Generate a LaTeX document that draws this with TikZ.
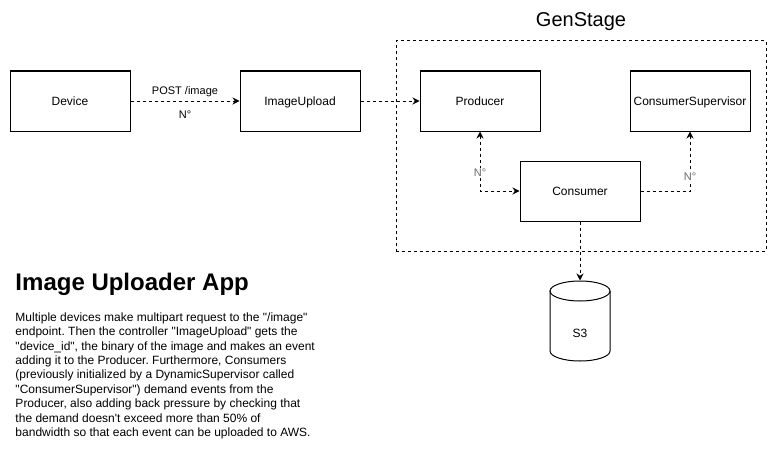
\documentclass[tikz,border=0pt]{standalone}
\usepackage{fontspec}
\defaultfontfeatures[\rmfamily]{}
\setmainfont{Liberation Sans}
\usetikzlibrary{arrows.meta}
\frenchspacing

\begin{document}
\begin{tikzpicture}[x=1pt, y=-1pt, line width=1pt,
      block/.style = {draw, minimum width=120pt, minimum height=60pt, inner sep=0pt,
                      text height=8.6pt, text depth=0pt, font=\fontsize{12}{14.4}\selectfont},
      group/.style = {draw, dash pattern=on 3pt off 3pt, minimum width=370pt,
                      minimum height=210pt, inner sep=0pt},
      flow/.style = {dash pattern=on 3pt off 3pt, -{Stealth[length=7pt,width=7pt]}},
      edgelabel/.style = {inner sep=1pt, font=\fontsize{11}{13}\selectfont},
      countlabel/.style = {edgelabel, fill=white, text=black!60}]

  \useasboundingbox (0,0) rectangle (776,452);

  % GenStage group
  \node[group] (genstage) at (581,146) {};
  \node[font=\fontsize{20}{24}\selectfont] (gstitle) at (581,22) {GenStage};

  % Blocks
  \node[block] (device) at (70,101) {Device};
  \node[block] (upload) at (300,101) {ImageUpload};
  \node[block] (producer) at (480,101) {Producer};
  \node[block] (supervisor) at (690,101) {ConsumerSupervisor};
  \node[block] (consumer) at (580,191) {Consumer};

  % S3 storage
  \draw (550,291) -- (550,351) arc[start angle=180, end angle=0, x radius=30, y radius=10] -- (610,291);
  \draw (580,291) ellipse[x radius=30, y radius=10];
  \node[inner sep=0pt, minimum width=60pt, minimum height=80pt] (s3) at (580,321) {};
  \node[font=\fontsize{12}{14.4}\selectfont] (s3label) at (580,333) {S3};

  % Connectors
  \draw[flow] (device) -- (upload)
    node[midway, yshift=9pt, edgelabel] (post) {POST /image}
    node[midway, yshift=-14pt, edgelabel] (postcount) {N°};
  \draw[flow] (upload) -- (producer);
  \draw[flow, {Stealth[length=7pt,width=7pt]}-{Stealth[length=7pt,width=7pt]}]
    (producer.south) |- node[pos=0.35, countlabel] (pccount) {N°} (consumer.west);
  \draw[flow] (consumer.east) -| node[pos=0.62, countlabel] (cscount) {N°} (supervisor.south);
  \draw[flow] (consumer.south) -- (s3.north);

  % Description
  \node[anchor=base west, inner sep=0pt, font=\bfseries\fontsize{24}{28}\selectfont] (title)
    at (15,290) {Image Uploader App};
  \node[anchor=north west, align=left, inner sep=0pt, font=\fontsize{12}{14.4}\selectfont] (desc)
    at (15,312) {Multiple devices make multipart request to the "/image"\\
    endpoint. Then the controller "ImageUpload" gets the\\
    "device\_id", the binary of the image and makes an event\\
    adding it to the Producer. Furthermore, Consumers\\
    (previously initialized by a DynamicSupervisor called\\
    "ConsumerSupervisor") demand events from the\\
    Producer, also adding back pressure by checking that\\
    the demand doesn't exceed more than 50\% of\\
    bandwidth so that each event can be uploaded to AWS.};

\end{tikzpicture}
\end{document}
